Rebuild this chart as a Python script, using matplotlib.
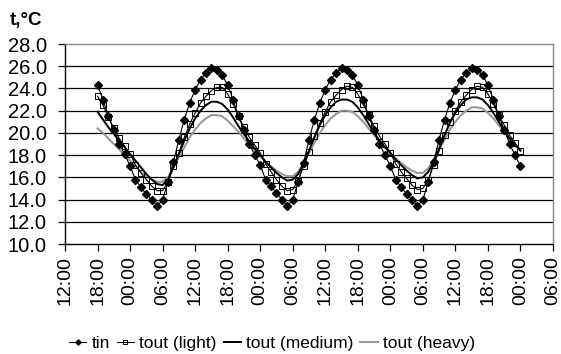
import numpy as np
import matplotlib
matplotlib.use("Agg")
import matplotlib.pyplot as plt

plt.rcParams["font.family"] = ["Liberation Sans", "DejaVu Sans"]

# hours counted from 12:00 of the first day
hours = np.arange(6, 85)

tin = [
    24.3, 23.0, 21.5, 20.3, 19.0, 18.1,
    17.0, 15.8, 15.1, 14.5, 14.0, 13.4, 14.0, 15.6, 17.4, 19.4, 21.2, 22.7,
    23.9, 24.8, 25.4, 25.8, 25.7, 25.2, 24.3, 23.0, 21.5, 20.3, 19.0, 18.0,
    17.1, 15.8, 15.2, 14.6, 14.0, 13.4, 14.0, 15.6, 17.3, 19.4, 21.2, 22.7,
    23.9, 24.8, 25.4, 25.8, 25.7, 25.2, 24.3, 23.0, 21.5, 20.3, 19.0, 18.0,
    17.0, 15.8, 15.1, 14.5, 14.0, 13.4, 14.0, 15.6, 17.4, 19.4, 21.2, 22.7,
    23.9, 24.8, 25.4, 25.8, 25.7, 25.2, 24.3, 23.0, 21.5, 20.3, 19.0, 18.0,
    17.0,
]
tout_light = [
    23.3, 22.5, 21.4, 20.4, 19.5, 18.8,
    18.1, 17.1, 16.4, 15.8, 15.2, 14.8, 14.8, 15.6, 17.0, 18.2, 19.6, 20.8,
    21.8, 22.7, 23.3, 23.8, 24.1, 24.1, 23.5, 22.6, 21.5, 20.5, 19.6, 18.9,
    18.2, 17.2, 16.5, 15.8, 15.2, 14.8, 14.9, 15.7, 17.0, 18.3, 19.7, 20.9,
    21.9, 22.8, 23.4, 23.9, 24.2, 24.1, 23.5, 22.6, 21.6, 20.6, 19.7, 19.0,
    18.2, 17.2, 16.5, 15.9, 15.3, 14.9, 15.0, 15.8, 17.1, 18.4, 19.8, 21.0,
    22.0, 22.8, 23.4, 23.9, 24.2, 24.1, 23.5, 22.6, 21.6, 20.7, 19.8, 19.1,
    18.4,
]
tout_medium = [
    21.9, 21.2, 20.5, 19.9, 19.3, 18.7,
    18.1, 17.5, 16.9, 16.3, 15.8, 15.4, 15.3, 15.8, 16.9, 18.1, 19.3, 20.4,
    21.3, 22.0, 22.5, 22.8, 22.8, 22.6, 22.1, 21.4, 20.6, 19.9, 19.2, 18.6,
    18.0, 17.4, 16.9, 16.4, 16.0, 15.7, 15.8, 16.3, 17.2, 18.4, 19.6, 20.7,
    21.6, 22.3, 22.8, 23.0, 23.0, 22.8, 22.3, 21.6, 20.8, 20.0, 19.3, 18.7,
    18.2, 17.6, 17.1, 16.6, 16.2, 15.9, 16.0, 16.5, 17.4, 18.6, 19.8, 20.9,
    21.8, 22.5, 23.0, 23.2, 23.2, 23.0, 22.5, 21.8, 21.0, 20.2, 19.5, 18.9,
    18.4,
]
tout_heavy = [
    20.4, 20.0, 19.5, 19.0, 18.5, 18.0,
    17.5, 17.0, 16.5, 16.1, 15.8, 15.6, 15.6, 16.0, 16.9, 17.8, 18.7, 19.6,
    20.3, 20.9, 21.3, 21.6, 21.6, 21.5, 21.1, 20.6, 20.1, 19.5, 18.9, 18.4,
    17.9, 17.4, 17.0, 16.6, 16.3, 16.1, 16.1, 16.5, 17.3, 18.2, 19.1, 20.0,
    20.7, 21.3, 21.7, 22.0, 22.0, 21.9, 21.5, 21.0, 20.4, 19.8, 19.2, 18.7,
    18.2, 17.7, 17.3, 16.9, 16.6, 16.4, 16.4, 16.8, 17.6, 18.5, 19.4, 20.3,
    21.0, 21.6, 22.0, 22.3, 22.3, 22.2, 21.8, 21.3, 20.7, 20.1, 19.5, 19.0,
    18.5,
]

tick_hours = np.arange(0, 91, 6)
tick_labels = [
    "12:00", "18:00", "00:00", "06:00", "12:00", "18:00", "00:00", "06:00",
    "12:00", "18:00", "00:00", "06:00", "12:00", "18:00", "00:00", "06:00",
]
y_ticks = np.arange(10, 28.1, 2)

fig = plt.figure(figsize=(5.61, 3.54), dpi=100)
ax = fig.add_axes([65 / 561, 110 / 354, 488 / 561, 200 / 354])

for y in y_ticks[1:-1]:
    ax.axhline(y, color="black", linewidth=0.9, zorder=1)

ax.plot(hours, tout_heavy, color="#999999", linewidth=1.5, label="tout (heavy)", zorder=2)
ax.plot(hours, tout_medium, color="black", linewidth=1.4, label="tout (medium)", zorder=3)
ax.plot(hours, tout_light, color="black", linewidth=0.8, marker="s", markersize=5,
        markerfacecolor="none", markeredgecolor="black", markeredgewidth=0.7,
        label="tout (light)", zorder=4)
ax.plot(hours, tin, color="black", linewidth=0.8, marker="D", markersize=3.8,
        markerfacecolor="black", markeredgecolor="black", label="tin", zorder=5)

ax.set_xlim(0, 90)
ax.set_ylim(10, 28)
ax.set_xticks(tick_hours)
ax.set_xticklabels(tick_labels, rotation=90)
ax.set_yticks(y_ticks)
ax.set_yticklabels([f"{v:.1f}" for v in y_ticks])
ax.tick_params(axis="both", direction="out", length=5, width=0.9)
ax.tick_params(axis="y", labelsize=14.5, pad=8)
ax.tick_params(axis="x", labelsize=14, pad=4)

for side in ["left", "bottom"]:
    ax.spines[side].set_color("black")
    ax.spines[side].set_linewidth(1.0)
for side in ["top", "right"]:
    ax.spines[side].set_color("#888888")
    ax.spines[side].set_linewidth(1.0)

fig.text(10 / 561, 1 - 20 / 354, "t,°C", fontsize=13.5, fontweight="bold", va="center", ha="left")

handles, labels = ax.get_legend_handles_labels()
order = [3, 2, 1, 0]
leg = fig.legend([handles[i] for i in order], [labels[i] for i in order],
                 loc="center", bbox_to_anchor=(272 / 561, 1 - 343 / 354), ncol=4,
                 frameon=False, fontsize=12.5, handlelength=1.0, handletextpad=0.3,
                 columnspacing=0.4, markerscale=0.7, borderpad=0)

fig.savefig("out.png", dpi=100)
